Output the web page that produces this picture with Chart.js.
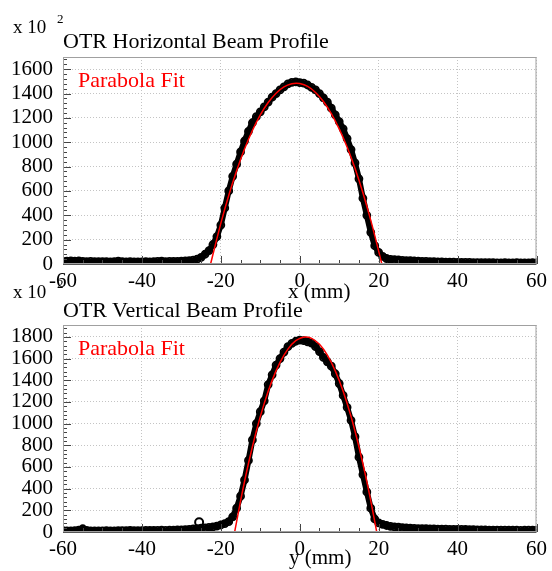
<!DOCTYPE html>
<html>
<head>
<meta charset="utf-8">
<title>OTR Beam Profiles</title>
<script src="https://cdn.jsdelivr.net/npm/chart.js@4"></script>
<style>
  body { margin: 0; background: #fff; }
  #wrap { position: relative; width: 552px; height: 571px; overflow: hidden; font-family: "Liberation Serif", "Times New Roman", serif; }
  canvas { position: absolute; left: 0; }
  .txt { position: absolute; white-space: nowrap; line-height: 1; color: #000; }
  .red { color: #ff0000; }
</style>
</head>
<body>
<div id="wrap">
  <canvas id="horiz" width="552" height="290" style="top:0"></canvas>
  <canvas id="vert" width="552" height="281" style="top:290px"></canvas>

  <div class="txt" style="left:13px; top:17px; font-size:19px">x 10</div>
  <div class="txt" style="left:57px; top:12px; font-size:13px">2</div>
  <div class="txt" style="left:63px; top:30px; font-size:22px">OTR Horizontal Beam Profile</div>
  <div class="txt red" style="left:78px; top:69px; font-size:22px">Parabola Fit</div>
  <div class="txt" style="left:288px; top:281px; font-size:21px">x (mm)</div>

  <div class="txt" style="left:13px; top:282px; font-size:19px">x 10</div>
  <div class="txt" style="left:57px; top:277px; font-size:13px">2</div>
  <div class="txt" style="left:63px; top:299px; font-size:22px">OTR Vertical Beam Profile</div>
  <div class="txt red" style="left:78px; top:337px; font-size:22px">Parabola Fit</div>
  <div class="txt" style="left:289px; top:547px; font-size:21px">y (mm)</div>
</div>

<script>
// Position along the profile (mm), one sample per mm
const positions = [
    -60, -59, -58, -57, -56, -55, -54, -53, -52, -51,
    -50, -49, -48, -47, -46, -45, -44, -43, -42, -41,
    -40, -39, -38, -37, -36, -35, -34, -33, -32, -31,
    -30, -29, -28, -27, -26, -25, -24, -23, -22, -21,
    -20, -19, -18, -17, -16, -15, -14, -13, -12, -11,
    -10, -9, -8, -7, -6, -5, -4, -3, -2, -1,
    0, 1, 2, 3, 4, 5, 6, 7, 8, 9,
    10, 11, 12, 13, 14, 15, 16, 17, 18, 19,
    20, 21, 22, 23, 24, 25, 26, 27, 28, 29,
    30, 31, 32, 33, 34, 35, 36, 37, 38, 39,
    40, 41, 42, 43, 44, 45, 46, 47, 48, 49,
    50, 51, 52, 53, 54, 55, 56, 57, 58, 59, 60
];

// Horizontal profile intensity (x 10^2)
const horizValues = [
    22, 24, 25, 24, 26, 22, 20, 21, 20, 19,
    20, 19, 18, 20, 24, 19, 18, 19, 18, 17,
    18, 19, 18, 20, 21, 24, 20, 21, 22, 22,
    24, 25, 28, 32, 40, 55, 80, 110, 160, 225,
    320, 460, 600, 720, 820, 920, 1010, 1090, 1160, 1210,
    1250, 1290, 1330, 1370, 1400, 1430, 1455, 1480, 1492, 1495,
    1490, 1485, 1470, 1450, 1430, 1400, 1365, 1330, 1280, 1225,
    1170, 1110, 1030, 940, 830, 700, 540, 400, 260, 150,
    95, 62, 45, 38, 35, 33, 30, 28, 27, 26,
    24, 22, 21, 20, 19, 18, 17, 16, 16, 15,
    14, 14, 13, 13, 12, 12, 12, 11, 11, 11,
    10, 10, 11, 10, 10, 12, 10, 9, 10, 12, 10
];

// Vertical profile intensity (x 10^2)
const vertValues = [
    12, 10, 11, 12, 18, 30, 14, 10, 10, 11,
    10, 12, 11, 10, 12, 13, 12, 14, 13, 12,
    13, 15, 14, 14, 15, 16, 15, 16, 18, 19,
    20, 22, 25, 28, 32, 35, 38, 42, 48, 55,
    65, 78, 95, 140, 220, 330, 480, 660, 850, 1000,
    1110, 1210, 1360, 1450, 1540, 1600, 1660, 1710, 1740, 1760,
    1770, 1765, 1755, 1742, 1710, 1665, 1610, 1570, 1530, 1460,
    1370, 1260, 1150, 1030, 880, 690, 530, 370, 220, 120,
    85, 70, 60, 52, 48, 44, 40, 38, 36, 34,
    32, 31, 30, 29, 28, 27, 27, 26, 25, 25,
    25, 24, 23, 22, 21, 20, 20, 19, 18, 18,
    18, 17, 17, 16, 16, 16, 15, 16, 17, 18, 16
];

// Stray point in the vertical profile
const vertOutlierX = [-25.5];
const vertOutlierY = [90];

// Parabola fit curves
const horizFitX = [-22.6, -20, -18, -16, -14, -12, -10, -8, -6, -4, -2, -0.9, 0, 2, 4, 6, 8, 10, 12, 14, 16, 18, 20, 20.8];
const horizFitY = [0, 334, 563, 766, 944, 1096, 1224, 1326, 1403, 1455, 1481, 1485, 1482, 1458, 1409, 1335, 1235, 1110, 961, 786, 585, 358, 106, 0];
const vertFitX = [-16.5, -15, -13, -11, -9, -7, -5, -3, -1, 1.5, 3, 5, 7, 9, 11, 13, 15, 17, 19, 19.5];
const vertFitY = [0, 287, 632, 932, 1187, 1399, 1565, 1687, 1765, 1800, 1787, 1732, 1632, 1487, 1299, 1065, 787, 465, 99, 0];

// Tick labels
const xTicks = [-60, -40, -20, 0, 20, 40, 60];
const horizYTicks = [0, 200, 400, 600, 800, 1000, 1200, 1400, 1600];
const vertYTicks = [0, 200, 400, 600, 800, 1000, 1200, 1400, 1600, 1800];

const SERIF = '"Liberation Serif", "Times New Roman", serif';

// Draw the box around the plot and inward ticks like ROOT does
const frameAndTicks = {
    id: 'frameAndTicks',
    afterDatasetsDraw(chart, args, opts) {
        const { ctx, chartArea: a, scales: { x, y } } = chart;
        ctx.save();
        ctx.strokeStyle = '#444';
        ctx.lineWidth = 1;
        ctx.beginPath();
        for (let v = x.min; v <= x.max; v += 5) {
            const px = Math.round(x.getPixelForValue(v)) + 0.5;
            const len = v % 20 === 0 ? 8 : 4;
            ctx.moveTo(px, a.bottom);
            ctx.lineTo(px, a.bottom - len);
        }
        for (let v = 0; v <= y.max; v += opts.yMinor) {
            const py = Math.round(y.getPixelForValue(v)) + 0.5;
            const len = v % 200 === 0 ? 8 : 4;
            ctx.moveTo(a.left, py);
            ctx.lineTo(a.left + len, py);
        }
        ctx.stroke();

        ctx.strokeStyle = '#a0a0a0';
        ctx.strokeRect(a.left + 0.5, a.top + 0.5, a.width - 1, a.height - 1);
        ctx.strokeStyle = '#555';
        ctx.beginPath();
        ctx.moveTo(a.left, a.bottom + 0.5);
        ctx.lineTo(a.right, a.bottom + 0.5);
        ctx.stroke();
        ctx.restore();
    }
};

function toPoints(xs, ys) {
    return xs.map((v, i) => ({ x: v, y: ys[i] }));
}

function makeProfile(canvasId, values, fitX, fitY, extraX, extraY, yTicks, yMax, padTop, xAxisHeight) {
    const datasets = [
        {
            label: 'Parabola Fit',
            data: toPoints(fitX, fitY),
            borderColor: '#ff0000',
            borderWidth: 1.5,
            pointRadius: 0,
            showLine: true,
            cubicInterpolationMode: 'monotone'
        },
        {
            label: 'Profile',
            data: toPoints(positions, values),
            borderColor: '#000',
            borderWidth: 6,
            showLine: true,
            pointRadius: 3.5,
            pointBorderWidth: 1.8,
            pointBorderColor: '#000',
            pointBackgroundColor: 'rgba(255,255,255,0)'
        }
    ];
    if (extraX.length) {
        datasets.push({
            label: 'Outlier',
            data: toPoints(extraX, extraY),
            showLine: false,
            pointRadius: 4,
            pointBorderWidth: 2,
            pointBorderColor: '#000',
            pointBackgroundColor: 'rgba(255,255,255,0)'
        });
    }

    return new Chart(document.getElementById(canvasId), {
        type: 'scatter',
        data: { datasets },
        options: {
            responsive: false,
            animation: false,
            layout: { padding: { top: padTop, right: 13, left: 0, bottom: 0 } },
            plugins: {
                legend: { display: false },
                tooltip: { enabled: false },
                frameAndTicks: { yMinor: 40 }
            },
            scales: {
                x: {
                    type: 'linear',
                    min: xTicks[0],
                    max: xTicks[xTicks.length - 1],
                    afterFit: s => { s.height = xAxisHeight; },
                    afterBuildTicks: s => { s.ticks = xTicks.map(v => ({ value: v })); },
                    ticks: {
                        padding: 5,
                        color: '#000',
                        autoSkip: false,
                        maxRotation: 0,
                        font: { family: SERIF, size: 21 },
                        callback: v => String(v)
                    },
                    grid: { color: '#c4c4c4', lineWidth: 1, drawTicks: false },
                    border: { display: false, dash: [1, 2] }
                },
                y: {
                    type: 'linear',
                    min: 0,
                    max: yMax,
                    afterFit: s => { s.width = 63; },
                    afterBuildTicks: s => { s.ticks = yTicks.map(v => ({ value: v })); },
                    ticks: {
                        padding: 10,
                        color: '#000',
                        autoSkip: false,
                        font: { family: SERIF, size: 21 },
                        callback: v => String(v)
                    },
                    grid: { color: '#c4c4c4', lineWidth: 1, drawTicks: false },
                    border: { display: false, dash: [1, 2] }
                }
            }
        },
        plugins: [frameAndTicks]
    });
}

makeProfile('horiz', horizValues, horizFitX, horizFitY, [], [], horizYTicks, 1700, 57, 26);
makeProfile('vert', vertValues, vertFitX, vertFitY, vertOutlierX, vertOutlierY, vertYTicks, 1910, 35, 39);
</script>
</body>
</html>
